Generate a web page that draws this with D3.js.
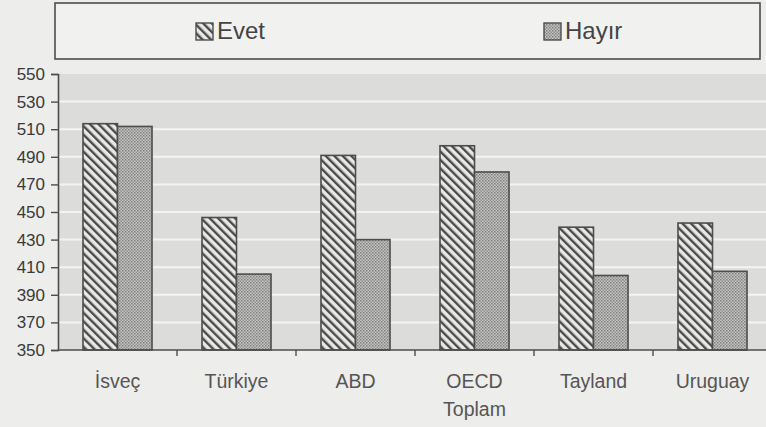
<!DOCTYPE html>
<html><head><meta charset="utf-8">
<script src="https://cdn.jsdelivr.net/npm/d3@7"></script>
<style>html,body{margin:0;padding:0;background:#ededeb;}svg{display:block;}</style>
</head><body>
<script>
const categories = ["İsveç","Türkiye","ABD","OECD Toplam","Tayland","Uruguay"];
const seriesNames = ["Evet","Hayır"];
const evet  = [514, 446, 491, 498, 439, 442];
const hayir = [512, 405, 430, 479, 404, 407];
const yTicks = [350,370,390,410,430,450,470,490,510,530,550];

const W = 766, H = 427;
const svg = d3.select("body").append("svg").attr("width", W).attr("height", H);
const defs = svg.append("defs");
const hatch = defs.append("pattern").attr("id","hatch").attr("patternUnits","userSpaceOnUse")
  .attr("width",6).attr("height",6).attr("patternTransform","rotate(-45)");
hatch.append("rect").attr("width",6).attr("height",6).attr("fill","#e8e8e6");
hatch.append("rect").attr("x",0).attr("width",2.4).attr("height",6).attr("fill","#4a4a4a");
const dots = defs.append("pattern").attr("id","dots").attr("patternUnits","userSpaceOnUse")
  .attr("width",3).attr("height",3);
dots.append("rect").attr("width",3).attr("height",3).attr("fill","#c4c4c2");
dots.append("rect").attr("width",1.5).attr("height",1.5).attr("fill","#808080");
dots.append("rect").attr("x",1.5).attr("y",1.5).attr("width",1.5).attr("height",1.5).attr("fill","#909090");

const x0 = d3.scaleBand().domain(categories).range([58, 772]).paddingInner(0.42).paddingOuter(0.21);
const x1 = d3.scaleBand().domain(seriesNames).range([0, x0.bandwidth()]);
const y = d3.scaleLinear().domain([350, 550]).range([350, 74]);
const fills = {"Evet":"url(#hatch)","Hayır":"url(#dots)"};

// plot background
svg.append("rect").attr("x",58).attr("y",y(550)).attr("width",772-58).attr("height",y(350)-y(550)).attr("fill","#dcdcda");
// gridlines
svg.append("g").selectAll("line").data(yTicks.filter(v=>v>350 && v<550)).join("line")
  .attr("x1",59).attr("x2",772).attr("y1",d=>y(d)).attr("y2",d=>y(d))
  .attr("stroke","#f4f4f2").attr("stroke-width",2);

// bars
const groups = svg.append("g").selectAll("g").data(categories).join("g")
  .attr("transform", c => `translate(${x0(c)},0)`);
groups.selectAll("rect").data((c,i)=>[{s:"Evet",v:evet[i]},{s:"Hayır",v:hayir[i]}]).join("rect")
  .attr("x", d=>x1(d.s)).attr("width", x1.bandwidth())
  .attr("y", d=>y(d.v)).attr("height", d=>y(350)-y(d.v))
  .attr("fill", d=>fills[d.s]).attr("stroke","#4d4d4d").attr("stroke-width",1.6);

// y axis
const yAxis = svg.append("g").attr("transform","translate(58,0)")
  .call(d3.axisLeft(y).tickValues(yTicks).tickSize(7).tickPadding(6).tickFormat(d3.format("d")));
yAxis.select(".domain").attr("stroke","#4d4d4d").attr("stroke-width",1.6);
yAxis.selectAll(".tick line").attr("stroke","#4d4d4d").attr("stroke-width",1.4);
yAxis.selectAll("text").attr("font-family","Liberation Sans, Arial, sans-serif").attr("font-size",17).attr("fill","#3a3a3a");

// x axis
const xg = svg.append("g");
xg.append("line").attr("x1",58).attr("x2",772).attr("y1",y(350)).attr("y2",y(350)).attr("stroke","#4d4d4d").attr("stroke-width",1.6);
xg.selectAll("line.tk").data(categories.slice(0,-1)).join("line").attr("class","tk")
  .attr("x1", c=>x0(c)+x0.bandwidth()+x0.step()*x0.paddingInner()/2)
  .attr("x2", c=>x0(c)+x0.bandwidth()+x0.step()*x0.paddingInner()/2)
  .attr("y1", y(350)).attr("y2", y(350)+6).attr("stroke","#4d4d4d").attr("stroke-width",1.4);
const lab = xg.selectAll("text").data(categories).join("text")
  .attr("x", c=>x0(c)+x0.bandwidth()/2).attr("y", 388)
  .attr("text-anchor","middle").attr("font-family","Liberation Sans, Arial, sans-serif")
  .attr("font-size",19.5).attr("fill","#555");
lab.each(function(c){
  const parts = c === "OECD Toplam" ? ["OECD","Toplam"] : [c];
  const t = d3.select(this);
  parts.forEach((p,i)=>t.append("tspan").attr("x", x0(c)+x0.bandwidth()/2).attr("dy", i?28:0).text(p));
});

// legend
const lg = svg.append("g");
lg.append("rect").attr("x",55).attr("y",3).attr("width",705).attr("height",56)
  .attr("fill","#f1f1ef").attr("stroke","#4d4d4d").attr("stroke-width",1.6);
const legPos = [{s:"Evet",x:196},{s:"Hayır",x:544}];
legPos.forEach(d=>{
  lg.append("rect").attr("x",d.x).attr("y",23).attr("width",17).attr("height",17)
    .attr("fill",fills[d.s]).attr("stroke","#4d4d4d").attr("stroke-width",1.4);
  lg.append("text").attr("x",d.x+21).attr("y",39).text(d.s)
    .attr("font-family","Liberation Sans, Arial, sans-serif").attr("font-size",24).attr("fill","#444");
});
</script>
</body></html>
